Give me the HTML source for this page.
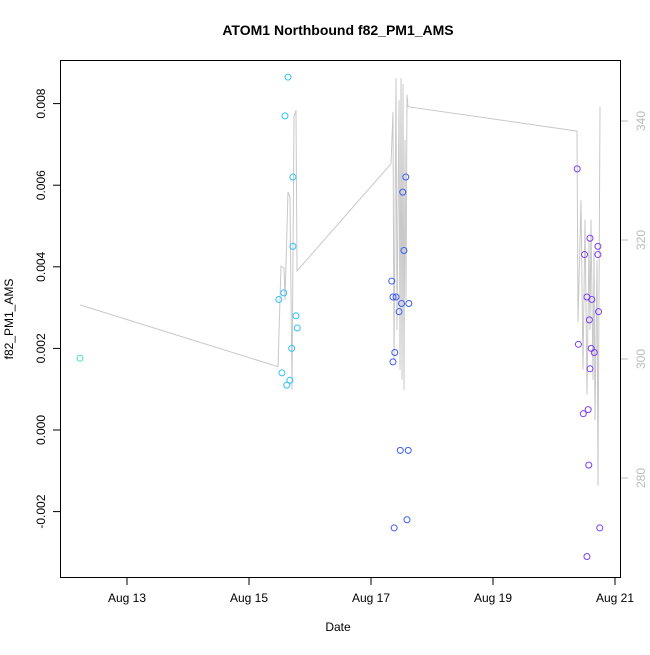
<!DOCTYPE html>
<html><head><meta charset="utf-8"><style>
body{margin:0;background:#fff}
svg{font-family:"Liberation Sans",sans-serif}
</style></head><body>
<svg id="c" width="650" height="650"></svg>
<script>
const ptDays=[12.23,15.64,15.59,15.72,15.72,15.49,15.57,15.77,15.79,15.70,15.54,15.67,15.62,
17.57,17.52,17.54,17.34,17.36,17.41,17.50,17.62,17.46,17.39,17.36,17.48,17.61,17.38,17.59,
20.38,20.59,20.72,20.50,20.72,20.54,20.62,20.73,20.58,20.40,20.61,20.66,20.59,20.56,20.48,20.57,20.75,20.54];
const ptVals=[0.00176,0.00865,0.0077,0.0062,0.0045,0.0032,0.00336,0.0028,0.0025,0.0020,0.0014,0.00122,0.0011,
0.0062,0.00583,0.0044,0.00365,0.00326,0.00326,0.0031,0.0031,0.0029,0.0019,0.00167,-0.0005,-0.0005,-0.0024,-0.0022,
0.0064,0.0047,0.0045,0.0043,0.0043,0.00326,0.0032,0.0029,0.0027,0.0021,0.0020,0.0019,0.0015,0.0005,0.0004,-0.00086,-0.0024,-0.0031];
const ptGroup=[0,1,1,1,1,1,1,1,1,1,1,1,1,2,2,2,2,2,2,2,2,2,2,2,2,2,2,2,3,3,3,3,3,3,3,3,3,3,3,3,3,3,3,3,3,3];
const lineDays=[12.23,15.475,15.525,15.574,15.59,15.64,15.672,15.705,15.738,15.77,15.787,17.328,17.361,17.377,17.41,17.426,17.459,17.475,17.492,17.508,17.525,17.541,17.557,17.574,17.59,17.607,20.377,20.393,20.443,20.475,20.508,20.541,20.574,20.59,20.607,20.639,20.656,20.672,20.705,20.721,20.754];
const lineVals=[309.1,298.7,315.6,315.3,309.9,328.1,327.2,294.8,340.7,341.8,314.8,332.8,341.5,299.8,347.2,304.9,343.5,298.2,347.2,296.5,346.2,294.8,336.8,309.9,344.4,342.4,338.3,306.2,326.7,298.2,323.4,294.0,320.0,304.9,323.4,296.5,318.3,289.7,316.6,278.7,342.4];
const xTicks=[13,15,17,19,21];
const xLabels=["Aug 13","Aug 15","Aug 17","Aug 19","Aug 21"];
const yTicks=[-0.002,0,0.002,0.004,0.006,0.008];
const yLabels=["-0.002","0.000","0.002","0.004","0.006","0.008"];
const rTicks=[280,300,320,340];
const colors=["#3ee0c0","#30c0f8","#3a5ef2","#7a3ef4"];

const X=d=>127+(d-13)*61;
const Y=v=>430-v*40800;
const R=r=>121+(340-r)*5.95;
const svg=document.getElementById('c');
const NS="http://www.w3.org/2000/svg";
function mk(t,a,p){const e=document.createElementNS(NS,t);for(const k in a)e.setAttribute(k,a[k]);(p||svg).appendChild(e);return e;}

let t=mk('text',{x:338,y:35,'text-anchor':'middle','font-size':14,'font-weight':'bold'});t.textContent="ATOM1 Northbound f82_PM1_AMS";


t=mk('text',{x:338,y:631,'text-anchor':'middle','font-size':12});t.textContent="Date";


t=mk('text',{x:13,y:319,'text-anchor':'middle','font-size':12,transform:'rotate(-90 13 319)'});t.textContent="f82_PM1_AMS";



let d=lineDays.map((x,i)=>(i?'L':'M')+X(x).toFixed(1)+','+R(lineVals[i]).toFixed(1)).join('');
let ln=mk('path',{d:d,fill:'none',stroke:'#c8c8c8','stroke-width':1});



ptDays.forEach((dd,i)=>{
 const c=mk('circle',{cx:X(dd),cy:Y(ptVals[i]),r:3,fill:'none',stroke:colors[ptGroup[i]],'stroke-width':1});
 
 
});

let box=mk('rect',{x:60.5,y:60.5,width:560,height:517,fill:'none',stroke:'#000'});



xTicks.forEach((v,i)=>{
 mk('line',{x1:X(v),x2:X(v),y1:578,y2:585,stroke:'#000'});
 const l=mk('text',{x:X(v),y:602,'text-anchor':'middle','font-size':12});l.textContent=xLabels[i];
 
 
});
yTicks.forEach((v,i)=>{
 mk('line',{x1:53,x2:60,y1:Y(v),y2:Y(v),stroke:'#000'});
 const l=mk('text',{x:0,y:0,'text-anchor':'middle','font-size':12,transform:`translate(45 ${Y(v)}) rotate(-90)`});l.textContent=yLabels[i];
 
 
});
rTicks.forEach(v=>{
 mk('line',{x1:621,x2:628,y1:R(v),y2:R(v),stroke:'#bbb'});
 const l=mk('text',{x:0,y:0,'text-anchor':'middle','font-size':12,fill:'#bbb',transform:`translate(645 ${R(v)}) rotate(-90)`});l.textContent=v;
 
 
});
</script>
</body></html>
